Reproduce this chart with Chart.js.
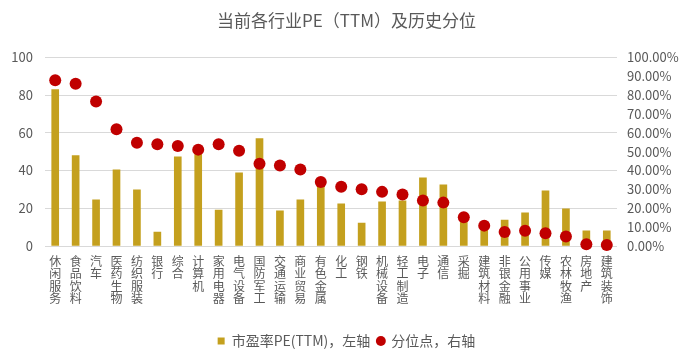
<!DOCTYPE html>
<html>
<head>
<meta charset="utf-8">
<script src="https://cdn.jsdelivr.net/npm/chart.js@4.4.0/dist/chart.umd.min.js"></script>
<style>
  html, body { margin: 0; padding: 0; background: #fff; }
  #wrap { width: 693px; height: 364px; }
</style>
</head>
<body>
<div id="wrap"><canvas id="peChart" width="693" height="364"></canvas></div>
<script>
// industries, left to right
const industries = ['休闲服务', '食品饮料', '汽车', '医药生物', '纺织服装', '银行', '综合', '计算机',
  '家用电器', '电气设备', '国防军工', '交通运输', '商业贸易', '有色金属', '化工', '钢铁',
  '机械设备', '轻工制造', '电子', '通信', '采掘', '建筑材料', '非银金融', '公用事业',
  '传媒', '农林牧渔', '房地产', '建筑装饰'];

// PE (TTM), left axis
const peValues = [83.0, 47.9, 24.5, 40.4, 29.8, 7.4, 47.3, 49.5,
  19.1, 38.8, 56.9, 18.6, 24.5, 33.2, 22.3, 12.2,
  23.4, 23.9, 36.2, 32.4, 13.2, 9.5, 13.8, 17.6,
  29.3, 19.7, 8.0, 8.0];

// historical percentile (%), right axis
const pctValues = [87.9, 86.0, 76.6, 61.9, 54.8, 53.9, 53.0, 51.1,
  53.9, 50.5, 43.6, 42.7, 40.6, 33.9, 31.4, 30.1,
  28.7, 27.3, 24.1, 23.0, 15.3, 10.8, 7.4, 8.1,
  6.8, 5.0, 0.9, 0.5];

const leftTicks = [0, 20, 40, 60, 80, 100];

const textColor = '#595959';
const cjkFont = '"Noto Sans CJK SC", "Noto Sans", sans-serif';

// vertical labels: one character per line
const stackedLabels = industries.map((name) => name.split(''));

const ctx = document.getElementById('peChart').getContext('2d');
const chart = new Chart(ctx, {
  data: {
    labels: stackedLabels,
    datasets: [
      {
        type: 'line',
        label: '分位点，右轴',
        data: pctValues,
        yAxisID: 'y1',
        showLine: false,
        pointStyle: 'circle',
        pointRadius: 6,
        pointHoverRadius: 6,
        pointBackgroundColor: '#C00000',
        pointBorderWidth: 0,
        borderColor: '#C00000',
        backgroundColor: '#C00000',
        clip: false,
        order: 0
      },
      {
        type: 'bar',
        label: '市盈率PE(TTM)，左轴',
        data: peValues,
        yAxisID: 'y',
        backgroundColor: '#C4A01E',
        borderWidth: 0,
        barThickness: 7,
        pointStyle: 'rect',
        order: 1
      }
    ]
  },
  options: {
    responsive: false,
    animation: false,
    layout: { padding: { left: 0, right: 0, top: 0, bottom: 6 } },
    plugins: {
      title: {
        display: true,
        text: '当前各行业PE（TTM）及历史分位',
        color: textColor,
        font: { family: cjkFont, size: 17, weight: 'normal' },
        padding: { top: 10, bottom: 27 }
      },
      legend: {
        position: 'bottom',
        labels: {
          usePointStyle: true,
          boxWidth: 7,
          boxHeight: 7,
          padding: 7,
          color: textColor,
          font: { family: cjkFont, size: 14 },
          sort: (a, b) => b.datasetIndex - a.datasetIndex
        }
      },
      tooltip: { enabled: false }
    },
    scales: {
      x: {
        grid: { display: false },
        border: { display: false },
        ticks: {
          color: textColor,
          font: { family: cjkFont, size: 12, lineHeight: 1.04 },
          maxRotation: 0,
          minRotation: 0,
          autoSkip: false,
          padding: 1
        },
        afterFit: (scale) => { scale.height = 81; }
      },
      y: {
        position: 'left',
        min: 0,
        max: 100,
        afterBuildTicks: (scale) => { scale.ticks = leftTicks.map((v) => ({ value: v })); },
        grid: { color: '#D9D9D9', drawTicks: false },
        border: { display: false },
        ticks: {
          color: textColor,
          font: { family: cjkFont, size: 13 },
          padding: 12
        },
        afterFit: (scale) => { scale.width = 45; }
      },
      y1: {
        position: 'right',
        min: 0,
        max: 100,
        grid: { display: false, drawTicks: false },
        border: { display: false },
        ticks: {
          stepSize: 10,
          color: textColor,
          font: { family: cjkFont, size: 13 },
          padding: 10,
          callback: (v) => v.toFixed(2) + '%'
        },
        afterFit: (scale) => { scale.width = 76; }
      }
    }
  }
});
</script>
</body>
</html>
